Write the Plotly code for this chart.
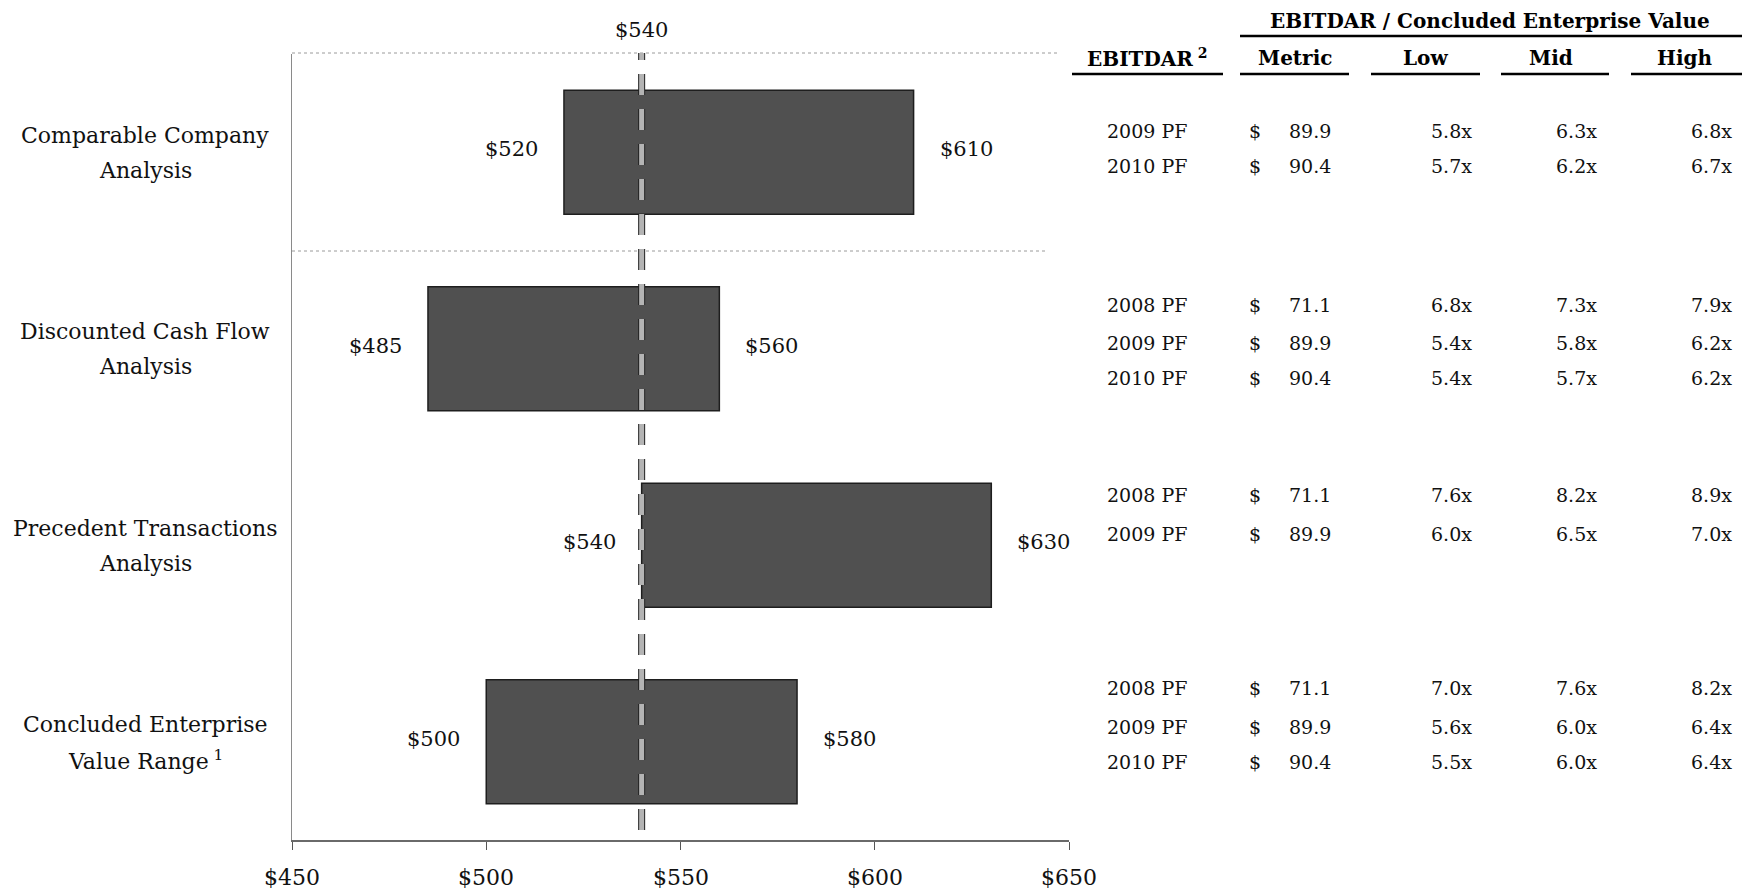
import plotly.graph_objects as go

# ---------------- data ----------------
methods = ["Comparable Company Analysis", "Discounted Cash Flow Analysis",
           "Precedent Transactions Analysis", "Concluded Enterprise Value Range"]
method_label_lines = [["Comparable Company", "Analysis"],
                      ["Discounted Cash Flow", "Analysis"],
                      ["Precedent Transactions", "Analysis"],
                      ["Concluded Enterprise", "Value Range<sup> 1</sup>"]]
range_low = [520, 485, 540, 500]
range_high = [610, 560, 630, 580]
concluded_value = 540
x_ticks = [450, 500, 550, 600, 650]
x_tick_labels = ["$450", "$500", "$550", "$600", "$650"]

table_title = "EBITDAR / Concluded Enterprise Value"
table_headers = ["EBITDAR<sup> 2</sup>", "Metric", "Low", "Mid", "High"]
table_years = [["2009 PF", "2010 PF"],
               ["2008 PF", "2009 PF", "2010 PF"],
               ["2008 PF", "2009 PF"],
               ["2008 PF", "2009 PF", "2010 PF"]]
table_metric = [[89.9, 90.4], [71.1, 89.9, 90.4], [71.1, 89.9], [71.1, 89.9, 90.4]]
table_low = [[5.8, 5.7], [6.8, 5.4, 5.4], [7.6, 6.0], [7.0, 5.6, 5.5]]
table_mid = [[6.3, 6.2], [7.3, 5.8, 5.7], [8.2, 6.5], [7.6, 6.0, 6.0]]
table_high = [[6.8, 6.7], [7.9, 6.2, 6.2], [8.9, 7.0], [8.2, 6.4, 6.4]]

# ---------------- layout geometry (pixels) ----------------
W, H = 1751, 893
L, R, T, B = 292, 1069, 54, 840
FONT = "DejaVu Serif"


def fx(px):
    return (px - L) / (R - L)


def fy(py):
    return (B - py) / (B - T)


fig = go.Figure()
fig.add_trace(go.Bar(
    y=methods,
    x=[h - l for l, h in zip(range_low, range_high)],
    base=range_low,
    orientation="h",
    width=0.63,
    marker=dict(color="#505050", line=dict(color="#1e1e1e", width=1.5)),
    hoverinfo="skip",
    showlegend=False,
))

annotations = []
shapes = []

# value labels next to bars
for m, lo, hi in zip(methods, range_low, range_high):
    annotations.append(dict(x=lo, y=m, xref="x", yref="y", text=f"${lo}", showarrow=False,
                            xanchor="right", xshift=-24, yshift=3,
                            font=dict(family=FONT, size=21, color="#111")))
    annotations.append(dict(x=hi, y=m, xref="x", yref="y", text=f"${hi}", showarrow=False,
                            xanchor="left", xshift=24, yshift=3,
                            font=dict(family=FONT, size=21, color="#111")))

# category labels (two lines, wider line spacing)
for m, lines in zip(methods, method_label_lines):
    for k, ln in enumerate(lines):
        annotations.append(dict(x=fx(145), y=m, xref="paper", yref="y", text=ln, showarrow=False,
                                xanchor="center", yanchor="middle", align="center",
                                yshift=17 - 35 * k,
                                font=dict(family=FONT, size=22, color="#111")))

# concluded value label on top
annotations.append(dict(x=concluded_value, y=fy(30), xref="x", yref="paper",
                        text=f"${concluded_value}", showarrow=False, xanchor="center", yanchor="middle",
                        font=dict(family=FONT, size=21, color="#111")))

# x-axis tick labels placed as annotations for exact vertical position
for v, t in zip(x_ticks, x_tick_labels):
    annotations.append(dict(x=v, y=fy(877), xref="x", yref="paper", text=t, showarrow=False,
                            xanchor="center", yanchor="middle",
                            font=dict(family=FONT, size=22, color="#111")))

# faint dotted separators
shapes.append(dict(type="line", xref="paper", yref="paper", x0=0, x1=fx(1060), y0=fy(53), y1=fy(53),
                   line=dict(color="#9a9a9a", width=1, dash="dot")))
shapes.append(dict(type="line", xref="paper", yref="paper", x0=0, x1=fx(1045), y0=fy(251), y1=fy(251),
                   line=dict(color="#9a9a9a", width=1, dash="dot")))

# dashed concluded-value line (black outline + grey core)
shapes.append(dict(type="line", xref="x", yref="paper", x0=concluded_value, x1=concluded_value,
                   y0=fy(830), y1=fy(53), line=dict(color="#222", width=7, dash="21px,14px")))
shapes.append(dict(type="line", xref="x", yref="paper", x0=concluded_value, x1=concluded_value,
                   y0=fy(830), y1=fy(53), line=dict(color="#b4b4b4", width=5, dash="21px,14px")))

# ---------------- table ----------------
hdr_font = dict(family=FONT, size=20, color="#000")
annotations.append(dict(x=fx(1490), y=fy(21), xref="paper", yref="paper", text=f"<b>{table_title}</b>",
                        showarrow=False, xanchor="center", yanchor="middle", font=hdr_font))
shapes.append(dict(type="line", xref="paper", yref="paper", x0=fx(1240), x1=fx(1742), y0=fy(36), y1=fy(36),
                   line=dict(color="#000", width=2.5)))
hdr_centers = [1147, 1295, 1425, 1551, 1684]
hdr_lines = [(1072, 1223), (1240, 1349), (1371, 1480), (1501, 1609), (1631, 1742)]
for txt, cx, (a, b) in zip(table_headers, hdr_centers, hdr_lines):
    annotations.append(dict(x=fx(cx), y=fy(58), xref="paper", yref="paper", text=f"<b>{txt}</b>",
                            showarrow=False, xanchor="center", yanchor="middle", font=hdr_font))
    shapes.append(dict(type="line", xref="paper", yref="paper", x0=fx(a), x1=fx(b), y0=fy(74), y1=fy(74),
                       line=dict(color="#000", width=2.5)))

row_y_px = [[131, 166], [305, 343, 378], [495, 534], [688, 727, 762]]
cell_font = dict(family=FONT, size=19, color="#111")
for g in range(len(table_years)):
    for i, yr in enumerate(table_years[g]):
        yy = fy(row_y_px[g][i])
        cells = [
            (yr, 1147, "center"),
            ("$", 1255, "center"),
            (f"{table_metric[g][i]:.1f}", 1333, "right"),
            (f"{table_low[g][i]:.1f}x", 1474, "right"),
            (f"{table_mid[g][i]:.1f}x", 1599, "right"),
            (f"{table_high[g][i]:.1f}x", 1734, "right"),
        ]
        for txt, px, anc in cells:
            annotations.append(dict(x=fx(px), y=yy, xref="paper", yref="paper", text=txt,
                                    showarrow=False, xanchor=anc, yanchor="middle", font=cell_font))

fig.update_layout(
    width=W, height=H,
    margin=dict(l=L, r=W - R, t=T, b=H - B, autoexpand=False),
    paper_bgcolor="white", plot_bgcolor="white",
    font=dict(family=FONT, size=21, color="#111"),
    xaxis=dict(range=[450, 650], tickvals=x_ticks, ticks="outside",
               ticklen=8, tickcolor="#555", tickwidth=1, showline=True, linecolor="#6a6a6a",
               linewidth=1.5, showgrid=False, zeroline=False, showticklabels=False,
               automargin=False, fixedrange=True),
    yaxis=dict(type="category", categoryorder="array", categoryarray=methods, range=[3.5, -0.5],
               showline=True, linecolor="#8a8a8a", linewidth=1, showticklabels=False,
               automargin=False,
               showgrid=False, zeroline=False, ticks="", fixedrange=True),
    annotations=annotations,
    shapes=shapes,
)

fig.write_html("out.html")
